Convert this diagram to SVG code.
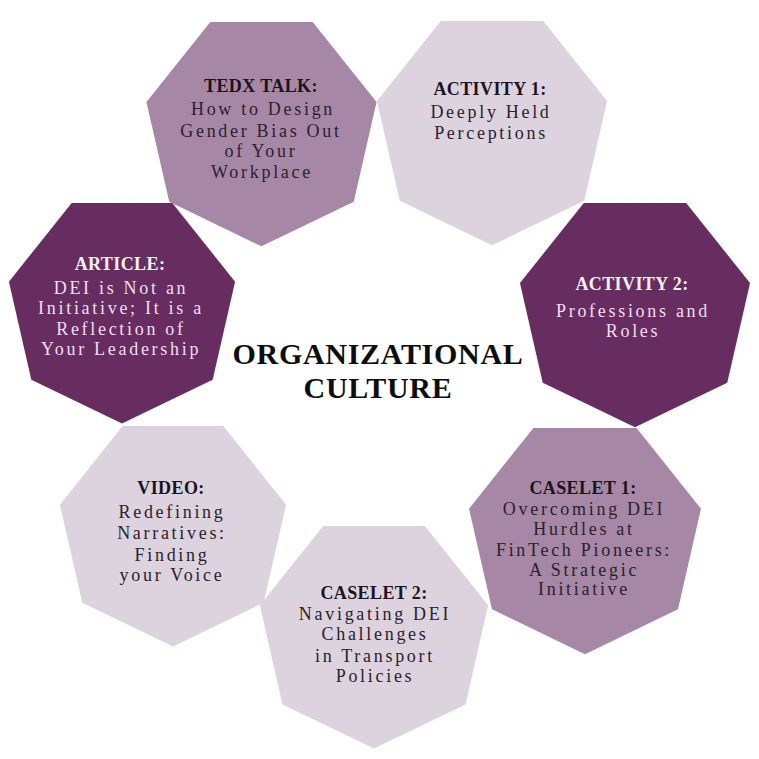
<svg xmlns="http://www.w3.org/2000/svg" xmlns:xlink="http://www.w3.org/1999/xlink" width="759" height="759" viewBox="0 0 759 759">
<style>
.light{fill:#ddd3de}
.mid{fill:#a688a6}
.dark{fill:#672d60}
.t{font-family:"Liberation Serif","Times New Roman",serif;font-weight:bold;font-size:18px;text-anchor:middle;letter-spacing:0.4px}
.b{font-family:"Liberation Serif","Times New Roman",serif;font-size:18px;text-anchor:middle;letter-spacing:2.7px}
.ink{fill:#1c141c}
.inkb{fill:#2a222a}
.wt{fill:#f7f0f6}
.wb{fill:#efdff0}
.c{font-family:"Liberation Serif","Times New Roman",serif;font-weight:bold;font-size:30px;letter-spacing:0.7px;text-anchor:middle;fill:#0d0d0d}
</style>
<defs>
<polygon id="hept" points="0,118 92.25,73.57 115.04,-26.26 51.2,-106.32 -51.2,-106.32 -115.04,-26.26 -92.25,73.57"/>
</defs>
<rect width="759" height="759" fill="#ffffff"/>
<g id="connectors"/>
<g id="tedx">
<use xlink:href="#hept" class="mid" transform="translate(261.5,128.3)"/>
<text class="t ink" x="261" y="92">TEDX TALK:</text>
<text class="b inkb" x="263" y="115">How to Design</text>
<text class="b inkb" x="261" y="136.5">Gender Bias Out</text>
<text class="b inkb" x="261" y="157">of Your</text>
<text class="b inkb" x="262" y="177.5">Workplace</text>
</g>
<g id="activity1">
<use xlink:href="#hept" class="light" transform="translate(492,127.3)"/>
<text class="t ink" x="490" y="95">ACTIVITY 1:</text>
<text class="b inkb" x="491" y="117.5">Deeply Held</text>
<text class="b inkb" x="491" y="138.5">Perceptions</text>
</g>
<g id="article">
<use xlink:href="#hept" class="dark" transform="translate(122,307.5) scale(0.983)"/>
<text class="t wt" x="120" y="269.5">ARTICLE:</text>
<text class="b wb" x="121" y="294">DEI is Not an</text>
<text class="b wb" x="121" y="314">Initiative; It is a</text>
<text class="b wb" x="121" y="334.5">Reflection of</text>
<text class="b wb" x="121" y="355">Your Leadership</text>
</g>
<g id="activity2">
<use xlink:href="#hept" class="dark" transform="translate(635,309.3)"/>
<text class="t wt" x="632" y="289.5">ACTIVITY  2:</text>
<text class="b wb" x="633" y="316.5">Professions and</text>
<text class="b wb" x="633" y="337">Roles</text>
</g>
<g id="center">
<text class="c" x="378" y="364">ORGANIZATIONAL</text>
<text class="c" x="378" y="398">CULTURE</text>
</g>
<g id="video">
<use xlink:href="#hept" class="light" transform="translate(173,530.5) scale(0.983)"/>
<text class="t ink" x="171" y="494">VIDEO:</text>
<text class="b inkb" x="172" y="517.5">Redefining</text>
<text class="b inkb" x="172" y="539">Narratives:</text>
<text class="b inkb" x="172" y="560.5">Finding</text>
<text class="b inkb" x="172" y="581">your Voice</text>
</g>
<g id="caselet1">
<use xlink:href="#hept" class="mid" transform="translate(585,535.2) scale(1.008)"/>
<text class="t ink" x="583" y="494">CASELET 1:</text>
<text class="b inkb" x="584" y="515">Overcoming DEI</text>
<text class="b inkb" x="584" y="535">Hurdles at</text>
<text class="b inkb" x="584" y="555.5">FinTech Pioneers:</text>
<text class="b inkb" x="584" y="575.5">A Strategic</text>
<text class="b inkb" x="584" y="595">Initiative</text>
</g>
<g id="caselet2">
<use xlink:href="#hept" class="light" transform="translate(374,631.4) scale(0.992)"/>
<text class="t ink" x="374" y="599">CASELET 2:</text>
<text class="b inkb" x="375" y="620">Navigating DEI</text>
<text class="b inkb" x="375" y="640">Challenges</text>
<text class="b inkb" x="375" y="661.5">in Transport</text>
<text class="b inkb" x="375" y="681.5">Policies</text>
</g>
</svg>
